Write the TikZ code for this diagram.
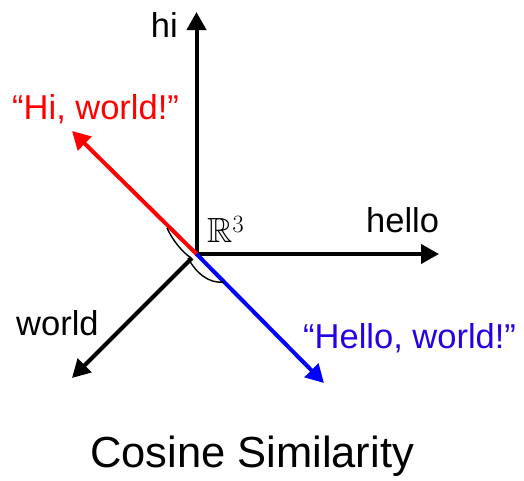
\documentclass[tikz,border=0pt]{standalone}
\usepackage{amssymb}
\usepackage{fontspec}
\setmainfont{Liberation Sans}
\usetikzlibrary{arrows.meta}
\definecolor{vred}{RGB}{255,0,0}
\definecolor{vblue}{RGB}{0,0,255}
\definecolor{tblue}{RGB}{40,0,230}
\tikzset{
  axis/.style={line width=4pt, -{Triangle[length=18pt,width=19pt]}},
  anglemark/.style={line width=1.4pt, black},
  lbl/.style={inner sep=0pt, font=\fontsize{34.5}{40}\selectfont},
  ttl/.style={inner sep=0pt, font=\fontsize{43.5}{50}\selectfont}
}
\begin{document}
\begin{tikzpicture}[x=1pt,y=-1pt]
\useasboundingbox (0,0) rectangle (524,480);
% coordinates
\coordinate (O) at (196.5,254);
\coordinate (Hi) at (196.5,12);
\coordinate (He) at (439,254);
\coordinate (W0) at (192,258);
\coordinate (W1) at (72,378);
\coordinate (R1) at (72,131);
\coordinate (B1) at (324,383);
% axes
\draw[axis] (O) -- (Hi);
\draw[axis] ([xshift=-2pt]O) -- (He);
\draw[axis] (W0) -- (W1);
% vectors
\draw[axis, vred] (O) -- (R1);
\draw[axis, vblue] (O) -- (B1);
% angle marks
\coordinate (ra) at (167,228);
\coordinate (rb) at (191,258);
\coordinate (ba) at (188,258);
\coordinate (bb) at (224,282);
\draw[anglemark] (ra) .. controls (172,239) and (181,251) .. (rb);
\draw[anglemark] (ba) .. controls (196,273) and (209,284) .. (bb);
% labels
\node[lbl, anchor=base east] (lhi) at (178,37) {hi};
\node[lbl, anchor=base west, text=vred] (lhw) at (12,119) {“Hi, world!”};
\node[lbl, anchor=base west] (lhello) at (366,232) {hello};
\node[lbl, anchor=base west] (lworld) at (16,335) {world};
\node[lbl, anchor=base west, text=tblue] (lhew) at (303,348) {“Hello, world!”};
\node[inner sep=0pt, anchor=base west, font=\fontsize{35}{40}\selectfont] (R3) at (207,242) {$\mathbb{R}^3$};
\node[ttl, anchor=base] (title) at (252,467) {Cosine Similarity};
\end{tikzpicture}
\end{document}
